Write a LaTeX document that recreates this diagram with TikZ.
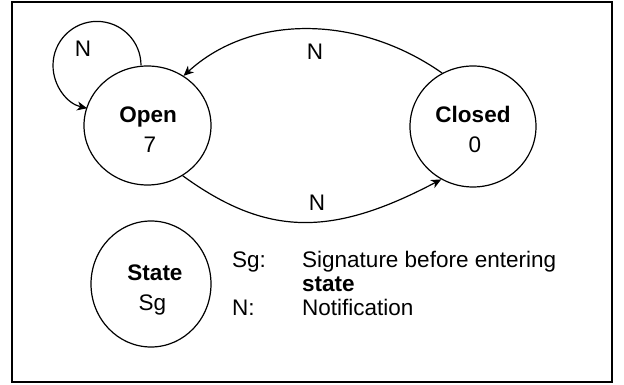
\documentclass[tikz,border=0pt]{standalone}
\usepackage{fontspec}
\setmainfont{Liberation Sans}
\usetikzlibrary{shapes.geometric,arrows.meta}
\begin{document}
\begin{tikzpicture}[x=1pt,y=1pt,
  st/.style={draw, ellipse, line width=1.2pt, inner sep=0pt},
  txt/.style={font=\fontsize{22.5}{30}\selectfont, inner sep=0pt},
  conn/.style={line width=1.2pt, -{Stealth[length=10pt,width=9pt,inset=3pt]}}]
\useasboundingbox (0,0) rectangle (624,385);
\draw[line width=1.5pt] (12,3) rectangle (612,383);
% states
\node[st, minimum width=127pt, minimum height=119pt] (open) at (147.5,259.5) {};
\node[st, minimum width=126pt, minimum height=121pt] (closed) at (473,258.5) {};
\node[st, minimum width=120pt, minimum height=126pt] (legstate) at (151,101) {};
% state texts
\node[txt, anchor=base] (openname) at (148,262) {\textbf{Open}};
\node[txt, anchor=base] (openval) at (150,232) {7};
\node[txt, anchor=base] (closedname) at (473,262) {\textbf{Closed}};
\node[txt, anchor=base] (closedval) at (475,232) {0};
\node[txt, anchor=base] (statename) at (155,104) {\textbf{State}};
\node[txt, anchor=base] (stateval) at (152.5,74) {Sg};
% transitions
\draw[conn] ([xshift=-6.5pt]open.north) arc[start angle=0, end angle=257, radius=44pt];
\draw[conn] (closed.120) .. controls (358,371) and (251,371) .. (open.54);
\draw[conn] (open.-55) .. controls (267,148) and (332,148) .. (closed.-121);
\node[txt] (nloop) at (83,336) {N};
\node[txt] (ntop) at (315,333) {N};
\node[txt] (nbot) at (317,182) {N};
% legend
\node[txt, anchor=base west] (sgk) at (232,117) {Sg:};
\node[txt, anchor=base west] (sgv) at (302,117) {Signature before entering};
\node[txt, anchor=base west] (sgv2) at (302,93) {\textbf{state}};
\node[txt, anchor=base west] (nk) at (232,69) {N:};
\node[txt, anchor=base west] (nv) at (302,69) {Notification};
\end{tikzpicture}
\end{document}
